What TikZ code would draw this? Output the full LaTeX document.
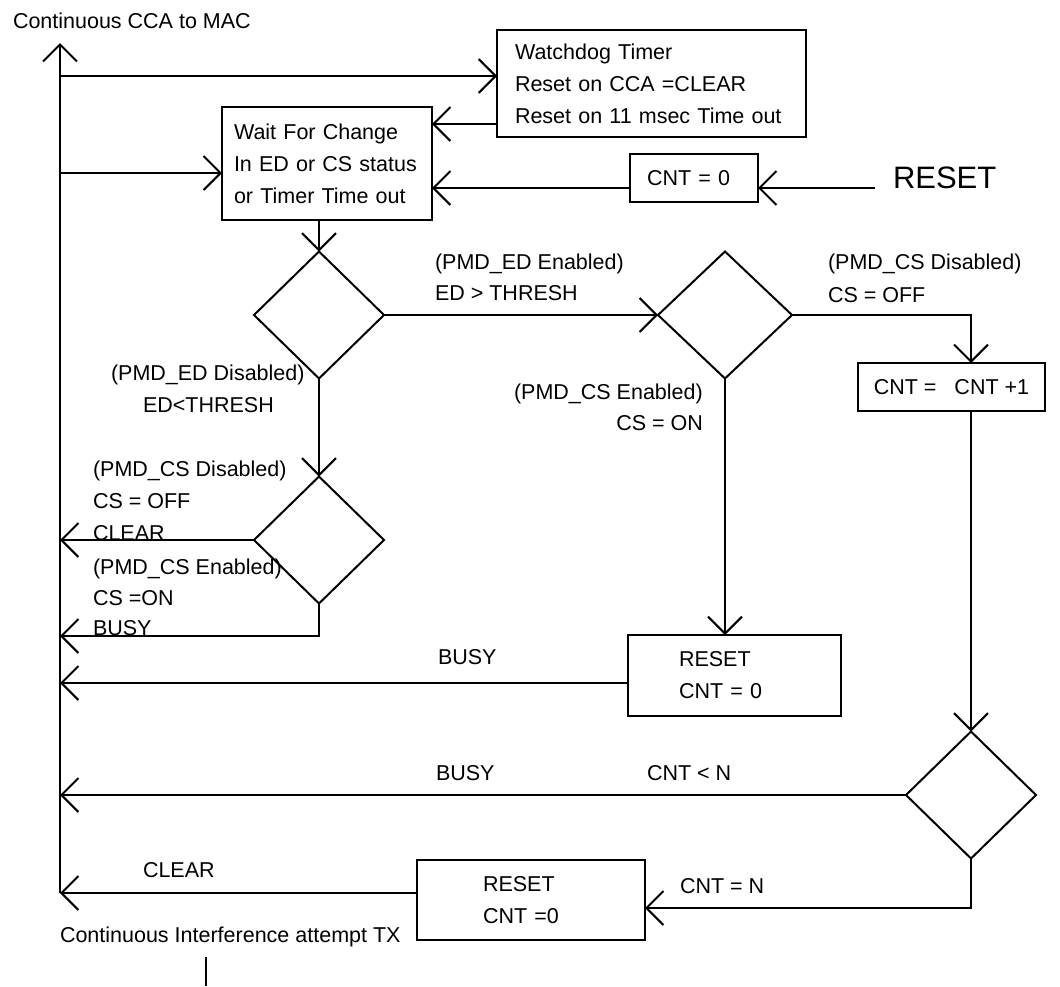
\documentclass[tikz,border=0pt]{standalone}
\usepackage{fontspec}
\setmainfont{Liberation Sans}
\usetikzlibrary{arrows.meta,shapes.geometric,calc}
\begin{document}
\begin{tikzpicture}[x=1pt,y=-1pt, line width=2pt,
  font=\fontsize{21.5}{32}\selectfont,
  box/.style={draw, rectangle, inner ysep=0pt, outer sep=0pt},
  dia/.style={draw, diamond, minimum width=130pt, minimum height=127pt, inner sep=0pt, outer sep=0pt},
  lbl/.style={anchor=base west, inner sep=0pt},
  lblr/.style={anchor=base east, inner sep=0pt},
  arr/.style={-{Straight Barb[length=17pt,width=34pt]}}]
\useasboundingbox (0,0) rectangle (1060,986);

% boxes
\node[box, minimum width=309pt, minimum height=107pt, text width=273pt, inner xsep=18pt, align=left] (wd) at (651.5,83.5)
  {Watchdog Timer\\Reset on CCA =CLEAR\\Reset on 11 msec Time out};
\node[box, minimum width=210pt, minimum height=113pt, text width=186pt, inner xsep=12pt, align=left] (wait) at (327,163.5)
  {Wait For Change\\In ED or CS status\\or Timer Time out};
\node[box, minimum width=128pt, minimum height=48pt, text width=94pt, inner xsep=17pt, align=left] (cnt0) at (694,178) {CNT = 0};
\node[box, minimum width=187pt, minimum height=48pt] (cnt1) at (951.5,387) {CNT =\ \ \ CNT +1};
\node[box, minimum width=213pt, minimum height=81pt, text width=111pt, inner xsep=51pt, align=left] (reset1) at (734.5,675.5)
  {RESET\\CNT = 0};
\node[box, minimum width=228pt, minimum height=80pt, text width=96pt, inner xsep=66pt, align=left] (reset2) at (531,900)
  {RESET\\CNT =0};

% diamonds
\node[dia] (d1) at (319,315) {};
\node[dia, minimum width=134pt] (d2) at (725,315) {};
\node[dia] (d3) at (319,540) {};
\node[dia] (d4) at (971,795) {};

% texts
\node[lbl] (tcca) at (12,28.5) {Continuous CCA to MAC};
\node[anchor=base west, inner sep=0pt, font=\fontsize{31}{36}\selectfont] (treset) at (892,188) {RESET};
\node[lbl] (l1) at (434,269.5) {(PMD\_ED Enabled)};
\node[lbl] (l2) at (434,300.5) {ED > THRESH};
\node[lbl] (l3) at (827,269.5) {(PMD\_CS Disabled)};
\node[lbl] (l4) at (827,302.5) {CS = OFF};
\node[lbl] (l5) at (110,380.5) {(PMD\_ED Disabled)};
\node[lbl] (l6) at (142,412.5) {ED<THRESH};
\node[lbl] (l7) at (513,399.5) {(PMD\_CS Enabled)};
\node[lblr] (l8) at (704,430.5) {CS = ON};
\node[lbl] (l9) at (92,476.5) {(PMD\_CS Disabled)};
\node[lbl] (l10) at (92,508.5) {CS = OFF};
\node[lbl] (l11) at (92,540.5) {CLEAR};
\node[lbl] (l12) at (92,574.5) {(PMD\_CS Enabled)};
\node[lbl] (l13) at (92,605.5) {CS =ON};
\node[lbl] (l14) at (92,635.5) {BUSY};
\node[lbl] (l15) at (437,664.5) {BUSY};
\node[lbl] (l16) at (435,780.5) {BUSY};
\node[lbl] (l17) at (646,780.5) {CNT < N};
\node[lbl] (l18) at (679,893.5) {CNT = N};
\node[lbl] (l19) at (142,877.5) {CLEAR};
\node[lbl] (l20) at (59,942.5) {Continuous Interference attempt TX};

% coordinates
\coordinate (top) at (60,43);
\coordinate (bot) at (60,893);
\coordinate (m1) at (60,76);
\coordinate (m2) at (60,173);
\coordinate (y124) at (0,124);
\coordinate (y188) at (0,188);
\coordinate (y636) at (0,636);
\coordinate (y683) at (0,683);
\coordinate (y908) at (0,908);
\coordinate (rs) at (875,188);
\coordinate (t1) at (206,957);
\coordinate (t2) at (206,986);

% connectors
\draw[arr] (bot) -- (top);
\draw[arr] (m1) -- (m1 -| wd.west);
\draw[arr] (wd.west |- y124) -- (wait.east |- y124);
\draw[arr] (m2) -- (m2 -| wait.west);
\draw[arr] (cnt0.west |- y188) -- (wait.east |- y188);
\draw[arr] (rs) -- (rs -| cnt0.east);
\draw[arr] (wait.south -| d1.north) -- (d1.north);
\draw[arr] (d1.east) -- (d2.west);
\draw[arr] (d1.south) -- (d3.north);
\draw[arr] (d3.west) -- (d3.west -| top);
\draw[arr] (d3.south) |- (top |- y636);
\draw[arr] (d2.east) -| (cnt1.north -| d4.north);
\draw[arr] (d2.south) -- (d2.south |- reset1.north);
\draw[arr] (reset1.west |- y683) -- (top |- y683);
\draw[arr] (cnt1.south -| d4.north) -- (d4.north);
\draw[arr] (d4.west) -- (d4.west -| top);
\draw[arr] (d4.south) |- (reset2.east |- y908);
\draw[arr] (bot -| reset2.west) -- (bot);
\draw (t1) -- (t2);
\end{tikzpicture}
\end{document}
